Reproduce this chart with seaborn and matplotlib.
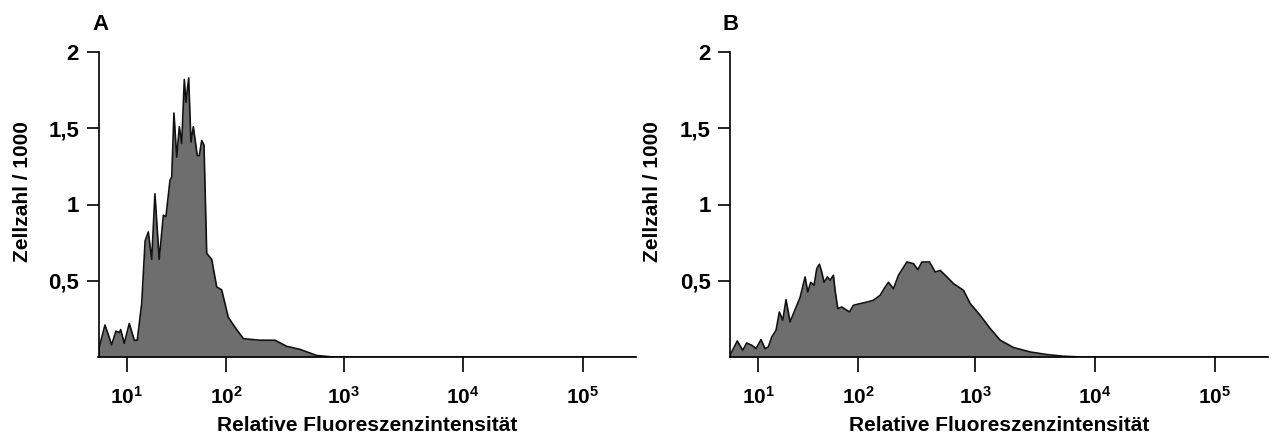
import numpy as np
import pandas as pd
import matplotlib
matplotlib.use('Agg')
import matplotlib.pyplot as plt
import seaborn as sns

# %% data (x = fluorescence intensity, y = cells / 1000)
xA = [3.5, 3.6, 4.7, 6.1, 7.1, 7.95, 8.3, 9.3, 10.8, 12.45, 13.5, 15.2, 16.6, 18.0,
      19.6, 21.2, 23.5, 25.9, 27.5, 30.2, 31.4, 33.0, 35.1, 37.2, 39.2, 41.5, 43.0,
      45.6, 47.9, 50.4, 54.8, 57.2, 60.2, 63.1, 66.8, 74.1, 82.1, 90.9, 104, 123,
      141, 196, 263, 331, 429, 593, 814, 1500, 10000, 100000, 277000]
yA = [0.0, 0.06, 0.21, 0.08, 0.17, 0.16, 0.18, 0.09, 0.22, 0.11, 0.11, 0.35, 0.76,
      0.82, 0.64, 1.07, 0.64, 0.93, 0.92, 1.16, 1.18, 1.60, 1.31, 1.51, 1.40, 1.82,
      1.67, 1.83, 1.41, 1.51, 1.32, 1.32, 1.42, 1.39, 0.68, 0.64, 0.46, 0.44, 0.26,
      0.18, 0.12, 0.11, 0.11, 0.07, 0.05, 0.01, 0.0, 0.0, 0.0, 0.0, 0.0]

xB = [3.5, 3.62, 4.86, 6.0, 6.92, 8.18, 9.36, 10.86, 12.17, 13.33, 14.61, 16.34,
      17.78, 19.35, 20.98, 23.09, 25.98, 29.17, 32.68, 34.7, 37.09, 39.89, 42.3,
      44.76, 47.12, 49.5, 53.12, 56.24, 60.29, 62.48, 66.1, 71.82, 83.99, 91.13,
      104.4, 119.6, 136.5, 156.0, 172.3, 184.0, 203.1, 224.0, 264.4, 300.9, 327.9,
      354.5, 411.1, 459.3, 506.2, 576.6, 655.2, 795.4, 905.4, 1098, 1332, 1616,
      2088, 2880, 3972, 5466, 7538, 20000, 100000, 277000]
yB = [0.0, 0.02, 0.105, 0.044, 0.092, 0.077, 0.055, 0.114, 0.055, 0.066, 0.131,
      0.175, 0.295, 0.241, 0.376, 0.23, 0.31, 0.39, 0.525, 0.426, 0.49, 0.47, 0.58,
      0.608, 0.557, 0.49, 0.525, 0.503, 0.536, 0.437, 0.317, 0.328, 0.295, 0.339,
      0.35, 0.36, 0.372, 0.405, 0.459, 0.49, 0.448, 0.536, 0.623, 0.612, 0.573,
      0.623, 0.623, 0.557, 0.568, 0.525, 0.481, 0.437, 0.35, 0.273, 0.186, 0.11,
      0.062, 0.033, 0.016, 0.005, 0.0, 0.0, 0.0, 0.0]

xticks = [10, 100, 1000, 10000, 100000]
xticklabels = [r'$\mathbf{10^{1}}$', r'$\mathbf{10^{2}}$', r'$\mathbf{10^{3}}$',
               r'$\mathbf{10^{4}}$', r'$\mathbf{10^{5}}$']
yticks = [0.5, 1, 1.5, 2]
yticklabels = ['0,5', '1', '1,5', '2']

# %% style
sns.set_style('ticks')
plt.rcParams['font.family'] = ['Liberation Sans', 'DejaVu Sans']
plt.rcParams['font.weight'] = 'bold'
plt.rcParams['text.color'] = 'black'
plt.rcParams['xtick.color'] = 'black'
plt.rcParams['ytick.color'] = 'black'
plt.rcParams['axes.edgecolor'] = 'black'
plt.rcParams['mathtext.fontset'] = 'custom'
plt.rcParams['mathtext.bf'] = 'Liberation Sans:bold'
plt.rcParams['mathtext.rm'] = 'Liberation Sans:bold'

# compressed log scale near the low end (like the cytometer axis)
OFFSET = 5.54
def fwd(x):
    return np.log10(np.clip(x + OFFSET, 1e-3, None))
def inv(y):
    return 10 ** y - OFFSET

W, H = 1273, 443
fig = plt.figure(figsize=(W / 100, H / 100), dpi=100)
axA = fig.add_axes([98.5 / W, 1 - 357 / H, (636 - 98.5) / W, (357 - 52) / H])
axB = fig.add_axes([730 / W, 1 - 357 / H, (1268 - 730) / W, (357 - 52) / H])

for ax, xs, ys in [(axA, xA, yA), (axB, xB, yB)]:
    df = pd.DataFrame({'x': xs, 'y': ys})
    ax.set_xscale('function', functions=(fwd, inv))
    ax.fill_between(df['x'], df['y'], 0, color='#6e6e6e', lw=0)
    sns.lineplot(data=df, x='x', y='y', ax=ax, color='#111111', lw=1.2)
    ax.set_xlim(3.5, 277000)
    ax.set_ylim(0, 2)
    ax.set_xticks(xticks)
    ax.set_xticklabels(xticklabels)
    ax.set_yticks(yticks)
    ax.set_yticklabels(yticklabels)
    ax.minorticks_off()
    ax.tick_params(axis='x', length=11, width=1.2, labelsize=15, pad=10)
    ax.tick_params(axis='y', length=9, width=1.2, labelsize=16, pad=5)
    ax.set_xlabel('')
    ax.set_ylabel('')
    sns.despine(ax=ax)
    for s in ['left', 'bottom']:
        ax.spines[s].set_linewidth(1.2)
    for lab in ax.get_yticklabels():
        lab.set_fontweight('bold')

# %% labels
fig.text(100.5 / W, 1 - 24.5 / H, 'A', fontsize=16, fontweight='bold', ha='center', va='center')
fig.text(731 / W, 1 - 24.5 / H, 'B', fontsize=16, fontweight='bold', ha='center', va='center')
for xc in [22.5, 653]:
    fig.text(xc / W, 1 - 192 / H, 'Zellzahl / 1000', fontsize=15, fontweight='bold',
             rotation=90, ha='center', va='center')
for xc in [367, 999]:
    fig.text(xc / W, 1 - 431 / H, 'Relative Fluoreszenzintensität', fontsize=15,
             fontweight='bold', ha='center', va='baseline')

plt.savefig('out.png', dpi=100)
